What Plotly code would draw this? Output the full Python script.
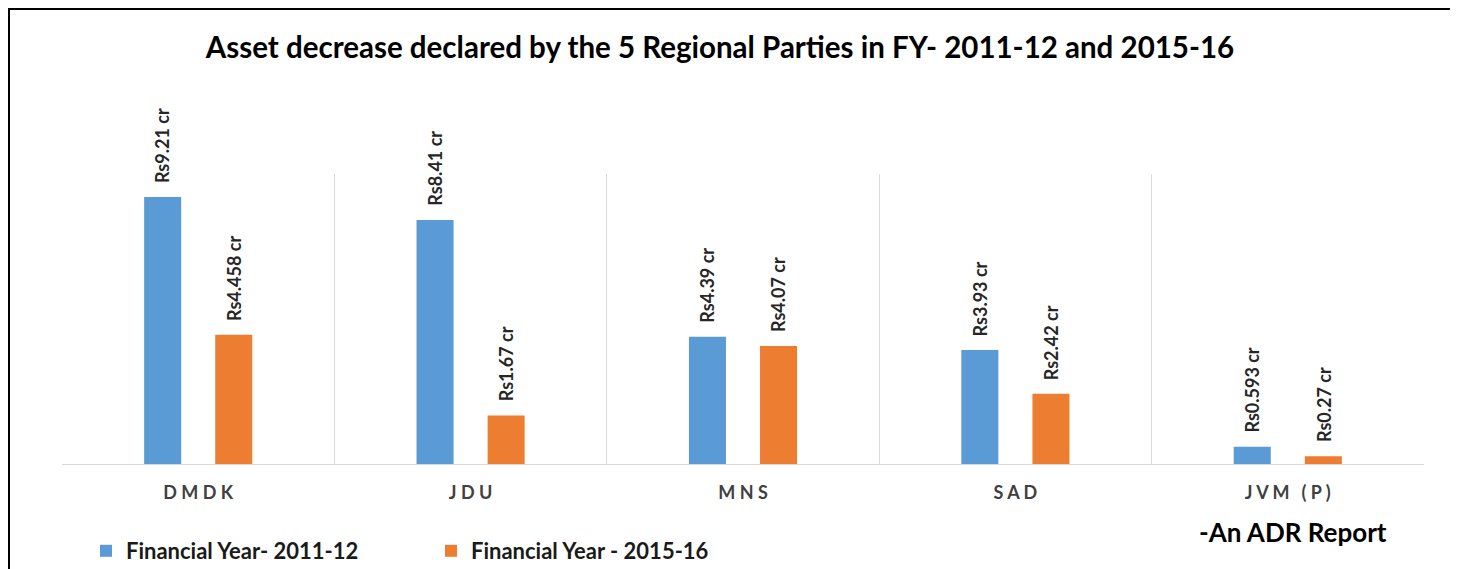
import plotly.graph_objects as go

parties = ["DMDK", "JDU", "MNS", "SAD", "JVM (P)"]
fy_2011_12 = [9.21, 8.41, 4.39, 3.93, 0.593]
fy_2015_16 = [4.458, 1.67, 4.07, 2.42, 0.27]
series_names = ["Financial Year- 2011-12", "Financial Year - 2015-16"]
colors = ["#5B9BD5", "#ED7D31"]

# the page body has an 8px margin; figure coordinates = screen coordinates - 8
OFF = 8
W, H = 1450, 620
PL, PR, PT, PB = 62 - OFF, 1424 - OFF, 174 - OFF, 464 - OFF
ML, MR, MT, MB = PL, W - PR, PT, H - PB
PW, PH = PR - PL, PB - PT

BARGAP, GROUPGAP = 0.478, 0.479
cat_px = PW / len(parties)
slot = (1 - BARGAP) / 2
offset_px = slot / 2 * cat_px


def letter_spaced(label):
    words = label.split(" ")
    return "\u2004\u2004".join(" ".join(list(w)) for w in words)


tick_text = [letter_spaced(p) for p in parties]


def px_x(sx):
    return (sx - OFF - PL) / PW


def px_y(sy):
    return (PB - (sy - OFF)) / PH


fig = go.Figure()
for name, vals, col in zip(series_names, [fy_2011_12, fy_2015_16], colors):
    fig.add_trace(go.Bar(x=parties, y=vals, name=name, marker=dict(color=col, line=dict(width=0))))

annotations = []
for sign, vals in zip([-1, 1], [fy_2011_12, fy_2015_16]):
    for p, v in zip(parties, vals):
        annotations.append(dict(
            x=p, y=v, xref="x", yref="y", text=f"Rs{v:g} cr", showarrow=False,
            textangle=-90, yanchor="bottom", xanchor="center", xshift=sign * offset_px, yshift=12,
            font=dict(family="Lato", size=18, color="#262626", weight="bold"),
        ))

annotations.append(dict(
    x=px_x(1293), y=px_y(532), xref="paper", yref="paper",
    text="<b>-An ADR Report</b>", showarrow=False, xanchor="center", yanchor="middle",
    font=dict(family="Lato", size=26, color="#000000"),
))

fig.update_layout(
    width=W, height=H,
    margin=dict(l=ML, r=MR, t=MT, b=MB, autoexpand=False),
    paper_bgcolor="white", plot_bgcolor="white",
    barmode="group", bargap=BARGAP, bargroupgap=GROUPGAP,
    title=dict(text="<b>Asset decrease declared by the 5 Regional Parties in FY- 2011-12 and 2015-16</b>",
               x=(720 - OFF) / W, y=1 - (48 - OFF) / H, xref="container", yref="container",
               xanchor="center", yanchor="middle",
               font=dict(family="Lato", size=29.5, color="#000000")),
    xaxis=dict(tickmode="array", tickvals=parties, ticktext=tick_text, tickson="boundaries",
               showgrid=True, gridcolor="#D9D9D9", gridwidth=1,
               showline=True, linecolor="#D9D9D9", linewidth=1, ticks="",
               tickfont=dict(family="Lato", size=18, color="#404040", weight="bold"),
               ticklabelstandoff=12, zeroline=False),
    yaxis=dict(range=[0, 10], visible=False, showgrid=False, zeroline=False),
    showlegend=True,
    legend=dict(orientation="h", x=px_x(78 + OFF), xanchor="left", y=px_y(551), yanchor="middle",
                font=dict(family="Lato", size=22, color="#1a1a1a", weight="bold"),
                entrywidth=300, entrywidthmode="pixels", bgcolor="rgba(0,0,0,0)"),
    annotations=annotations,
    shapes=[dict(type="rect", xref="paper", yref="paper",
                 x0=(1 - PL) / PW, x1=(1452 - OFF - PL) / PW, y0=(PB - (H + 20)) / PH, y1=(PB - 1) / PH,
                 line=dict(color="black", width=2), fillcolor="rgba(0,0,0,0)", layer="above")],
)

fig.write_html("out.html")
